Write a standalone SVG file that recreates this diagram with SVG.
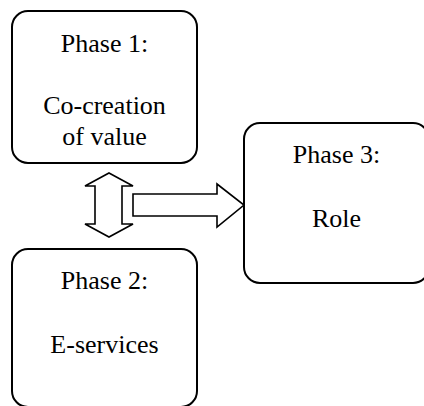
<svg xmlns="http://www.w3.org/2000/svg" width="424" height="406" viewBox="0 0 424 406">
<style>
.box{fill:#fff;stroke:#000;stroke-width:2}
.arr{fill:#fff;stroke:#000;stroke-width:1.6;stroke-linejoin:miter}
.t{font-family:"Liberation Serif","Times New Roman",serif;font-size:26px;fill:#000;text-anchor:middle}
</style>
<rect width="424" height="406" fill="#fff"/>
<g id="connectors">
<polygon class="arr" points="109,173 133,186 122,186 122,224 133,224 109,237 85,224 95,224 95,186 85,186"/>
<polygon class="arr" points="133,194 217,194 217,184 244,205 217,227 217,216 133,216"/>
</g>
<g id="phase1">
<rect class="box" x="12" y="11" width="185" height="152" rx="16"/>
<text class="t" x="104.5" y="52">Phase 1:</text>
<text class="t" x="104.5" y="114">Co-creation</text>
<text class="t" x="104.5" y="145">of value</text>
</g>
<g id="phase2">
<rect class="box" x="12" y="249" width="185" height="158" rx="16"/>
<text class="t" x="104.5" y="289">Phase 2:</text>
<text class="t" x="104.5" y="353">E-services</text>
</g>
<g id="phase3">
<rect class="box" x="244" y="123" width="185" height="160" rx="16"/>
<text class="t" x="336.5" y="163">Phase 3:</text>
<text class="t" x="336.5" y="227">Role</text>
</g>
</svg>
